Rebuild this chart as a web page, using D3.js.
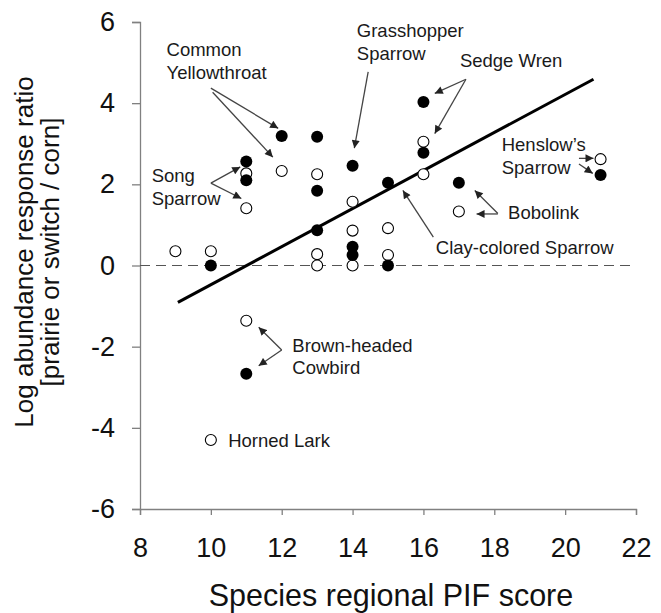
<!DOCTYPE html>
<html><head><meta charset="utf-8">
<script src="https://cdn.jsdelivr.net/npm/d3@7"></script>
<style>body{margin:0;background:#fff;}svg{display:block;font-family:"Liberation Sans",Arial,sans-serif;}</style>
</head><body>
<script>
// Data
const openX = [9, 10, 10, 11, 11, 11, 12, 13, 13, 13, 14, 14, 14, 15, 15, 16, 16, 17, 21];
const openY = [0.35, 0.35, -4.3, 2.27, 1.41, -1.36, 2.33, 2.25, 0.28, 0, 1.57, 0.86, 0, 0.92, 0.26, 3.05, 2.25, 1.33, 2.62];
const filledX = [10, 11, 11, 11, 12, 13, 13, 13, 14, 14, 14, 15, 15, 16, 16, 17, 21];
const filledY = [0, 2.56, 2.1, -2.67, 3.19, 3.17, 1.84, 0.87, 2.46, 0.46, 0.26, 2.04, 0, 4.03, 2.78, 2.04, 2.23];
const fitX = [9.07, 20.8];
const fitY = [-0.91, 4.59];
const xTicks = [8, 10, 12, 14, 16, 18, 20, 22];
const yTicks = [-6, -4, -2, 0, 2, 4, 6];
const labels = [
  {lines: ["Common", "Yellowthroat"], x: 8.75, y: 5.15},
  {lines: ["Grasshopper", "Sparrow"], x: 14.12, y: 5.63},
  {lines: ["Sedge Wren"], x: 17.03, y: 4.88},
  {lines: ["Henslow\u2019s", "Sparrow"], x: 18.21, y: 2.82},
  {lines: ["Bobolink"], x: 18.39, y: 1.15},
  {lines: ["Clay-colored Sparrow"], x: 16.35, y: 0.28},
  {lines: ["Song", "Sparrow"], x: 8.33, y: 2.05},
  {lines: ["Brown-headed", "Cowbird"], x: 12.3, y: -2.13},
  {lines: ["Horned Lark"], x: 10.49, y: -4.48}
];
// arrows: [x1, y1, x2, y2] in data units
const arrows = [
  [10.0, 4.37, 11.9, 3.38],
  [10.05, 4.27, 11.75, 2.67],
  [14.44, 4.77, 14.05, 2.89],
  [17.2, 4.59, 16.32, 4.24],
  [17.2, 4.59, 16.32, 3.25],
  [20.39, 2.64, 20.8, 2.64],
  [20.39, 2.5, 20.78, 2.27],
  [18.1, 1.28, 17.45, 1.85],
  [18.1, 1.27, 17.5, 1.27],
  [16.28, 0.7, 15.42, 1.85],
  [10.0, 2.03, 10.83, 2.43],
  [10.0, 2.03, 10.86, 1.65],
  [12.0, -2.08, 11.35, -1.52],
  [12.0, -2.08, 11.35, -2.47]
];

const W = 661, H = 613;
const svg = d3.select("body").append("svg").attr("width", W).attr("height", H);
const x = d3.scaleLinear().domain([8, 22]).range([140, 636]);
const y = d3.scaleLinear().domain([-6, 6]).range([509, 22]);
const axisColor = "#808080";
const fmt = d => String(d);

svg.append("defs").append("marker")
  .attr("id", "ah").attr("viewBox", "0 0 10 10").attr("refX", 10).attr("refY", 5)
  .attr("markerWidth", 9).attr("markerHeight", 8).attr("markerUnits", "userSpaceOnUse")
  .attr("orient", "auto")
  .append("path").attr("d", "M0,0 L10,5 L0,10 z").attr("fill", "#222");

// Axes
const gx = svg.append("g").attr("transform", "translate(0,509)")
  .call(d3.axisBottom(x).tickValues(xTicks).tickSize(6).tickPadding(23).tickFormat(fmt));
const gy = svg.append("g").attr("transform", "translate(140,0)")
  .call(d3.axisLeft(y).tickValues(yTicks).tickSize(8).tickPadding(17).tickFormat(fmt));
[gx, gy].forEach(g => {
  g.select(".domain").attr("stroke", axisColor).attr("stroke-width", 1.3);
  g.selectAll(".tick line").attr("stroke", axisColor).attr("stroke-width", 1.3);
  g.selectAll(".tick text").attr("fill", "#111").style("font-size", "27px")
   .style("font-family", "'Liberation Sans', Arial, sans-serif");
});

// Dashed zero line
svg.append("line").attr("x1", x(8)).attr("x2", x(22)).attr("y1", y(0)).attr("y2", y(0))
  .attr("stroke", "#555").attr("stroke-width", 1.2).attr("stroke-dasharray", "10,6");

// Regression line
svg.append("line").attr("x1", x(fitX[0])).attr("y1", y(fitY[0]))
  .attr("x2", x(fitX[1])).attr("y2", y(fitY[1]))
  .attr("stroke", "#000").attr("stroke-width", 3);

// Arrows
svg.append("g").selectAll("line").data(arrows).join("line")
  .attr("x1", d => x(d[0])).attr("y1", d => y(d[1]))
  .attr("x2", d => x(d[2])).attr("y2", d => y(d[3]))
  .attr("stroke", "#444").attr("stroke-width", 1.3).attr("marker-end", "url(#ah)");

// Points
const openPts = openX.map((v, i) => [v, openY[i]]);
const filledPts = filledX.map((v, i) => [v, filledY[i]]);
svg.append("g").selectAll("circle").data(openPts).join("circle")
  .attr("cx", d => x(d[0])).attr("cy", d => y(d[1])).attr("r", 5.5)
  .attr("fill", "#fff").attr("stroke", "#000").attr("stroke-width", 1.1);
svg.append("g").selectAll("circle").data(filledPts).join("circle")
  .attr("cx", d => x(d[0])).attr("cy", d => y(d[1])).attr("r", 6)
  .attr("fill", "#000");

// Labels
const lg = svg.append("g").style("font-size", "18.5px").attr("fill", "#1a1a1a");
labels.forEach(l => {
  const t = lg.append("text").attr("x", x(l.x)).attr("y", y(l.y));
  l.lines.forEach((s, i) => t.append("tspan").attr("x", x(l.x)).attr("dy", i === 0 ? 0 : 22.5).text(s));
});

// Axis titles
svg.append("text").attr("x", 391).attr("y", 606).attr("text-anchor", "middle")
  .style("font-size", "30.5px").attr("fill", "#111").text("Species regional PIF score");
const yt = svg.append("text").attr("transform", "translate(33,252) rotate(-90)")
  .attr("text-anchor", "middle").style("font-size", "26px").attr("fill", "#111");
yt.append("tspan").attr("x", 0).attr("dy", 0).text("Log abundance response ratio");
yt.append("tspan").attr("x", 0).attr("dy", 26).text("[prairie or switch / corn]");
</script>
</body></html>
